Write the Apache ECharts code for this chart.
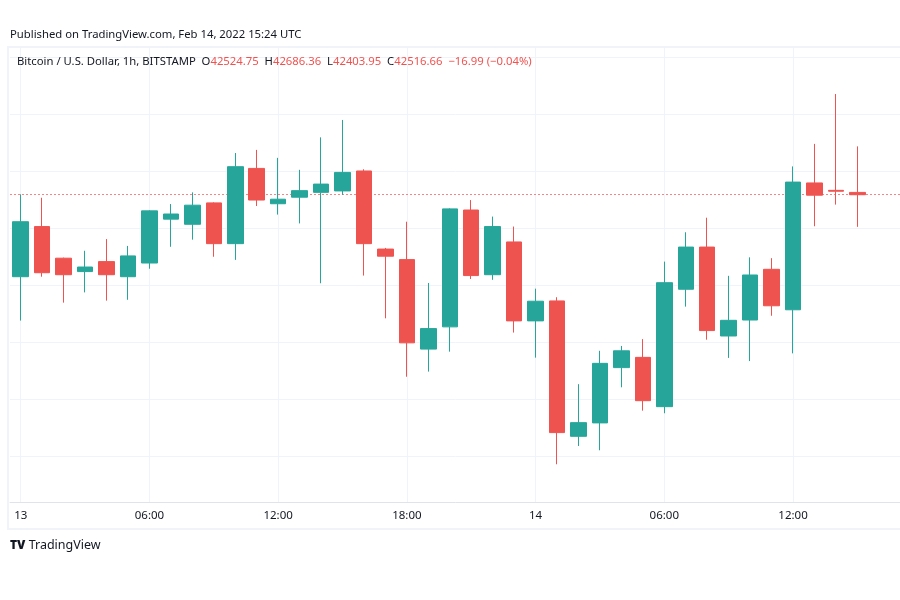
<!DOCTYPE html>
<html>
<head>
<meta charset="utf-8">
<script src="https://cdn.jsdelivr.net/npm/echarts@6/dist/echarts.min.js"></script>
<style>html,body{margin:0;padding:0;background:#fff}#c{width:900px;height:600px}</style>
</head>
<body>
<div id="c"></div>
<script>
// ---- data ----
const categories = [
 '13 00:00','13 01:00','13 02:00','13 03:00','13 04:00','13 05:00','13 06:00','13 07:00','13 08:00','13 09:00',
 '13 10:00','13 11:00','13 12:00','13 13:00','13 14:00','13 15:00','13 16:00','13 17:00','13 18:00','13 19:00',
 '13 20:00','13 21:00','13 22:00','13 23:00','14 00:00','14 01:00','14 02:00','14 03:00','14 04:00','14 05:00',
 '14 06:00','14 07:00','14 08:00','14 09:00','14 10:00','14 11:00','14 12:00','14 13:00','14 14:00','14 15:00',
 '14 16:00','14 17:00'
];
const opens  = [42229,42405,42294,42247,42282,42229,42277,42431,42413,42488,42345,42609,42485,42508,42525,42530,42600,42326,42289,41975,42053,42463,42236,42351,42074,42144,41669,41716,41910,41946,41773,42185,42333,42021,42077,42255,42113,42558,42532,42524.75];
const closes = [42422,42243,42236,42263,42236,42302,42460,42449,42480,42345,42615,42498,42501,42531,42554,42595,42345,42301,41997,42047,42467,42233,42405,42074,42143,41682,41717,41925,41969,41794,42208,42333,42040,42076,42235,42127,42561,42515,42529,42516.66];
const lows   = [42075,42229,42138,42174,42145,42148,42257,42334,42359,42299,42288,42477,42447,42416,42206,42516,42233,42083,41878,41896,41966,42221,42218,42033,41945,41571,41635,41620,41841,41759,41750,42124,42008,41944,41933,42092,41960,42406,42482,42403.95];
const highs  = [42518,42506,42296,42320,42361,42337,42462,42484,42525,42490,42663,42674,42646,42604,42718,42779,42606,42330,42422,42207,42469,42498,42440,42405,42187,42157,41852,41969,41986,42010,42282,42385,42436,42232,42297,42294,42616,42695,42870,42686.36];
const tickIndex  = [0,6,12,18,24,30,36];
const tickLabels = ['13','06:00','12:00','18:00','14','06:00','12:00'];
const priceLevels = [41600,41800,42000,42200,42400,42600,42800,43000];
const lastClose = 42516.66;
const yMin = 41438.5, yMax = 43035;

const GREEN = '#26a69a', RED = '#ef5350', TXT = '#131722', GRID = '#f0f3fa';
const FONT = 'Noto Sans';

const candleData = opens.map((o, i) => [o, closes[i], lows[i], highs[i]]);

const gridLines = [];
priceLevels.forEach(v => gridLines.push({yAxis: v}));
tickIndex.forEach(i => gridLines.push({xAxis: categories[i]}));

const chart = echarts.init(document.getElementById('c'), null, {renderer: 'canvas'});
chart.setOption({
  animation: false,
  backgroundColor: '#ffffff',
  grid: {left: 10, width: 901, top: 47, height: 455, containLabel: false, outerBoundsMode: 'none'},
  xAxis: {
    type: 'category', data: categories, boundaryGap: true,
    axisLine: {show: true, lineStyle: {color: '#e0e3eb', width: 1}},
    axisTick: {show: false},
    splitLine: {show: false},
    axisLabel: {
      interval: 0, color: TXT, fontFamily: FONT, fontSize: 11.5, margin: 8,
      formatter: (v, i) => { const k = tickIndex.indexOf(i); return k >= 0 ? tickLabels[k] : ''; }
    }
  },
  yAxis: {
    type: 'value', min: yMin, max: yMax, scale: true,
    axisLine: {show: false}, axisTick: {show: false}, axisLabel: {show: false}, splitLine: {show: false}
  },
  series: [
    {
      type: 'line', data: [], silent: true,
      markLine: {
        silent: true, symbol: 'none', z: 0, animation: false,
        label: {show: false},
        lineStyle: {color: GRID, type: 'solid', width: 1},
        emphasis: {disabled: true},
        data: gridLines
      }
    },
    {
      type: 'line', data: [], silent: true,
      markLine: {
        silent: true, symbol: 'none', z: 1, animation: false,
        label: {show: false},
        lineStyle: {color: 'rgba(239,83,80,0.7)', type: [2, 2], width: 1},
        emphasis: {disabled: true},
        data: [{yAxis: lastClose}]
      }
    },
    {
      type: 'candlestick', z: 3, barWidth: 16,
      data: candleData,
      itemStyle: {color: GREEN, color0: RED, borderColor: GREEN, borderColor0: RED, borderWidth: 1}
    }
  ],
  graphic: [
    {type: 'rect', z: -1, silent: true, shape: {x: 8, y: 47, width: 900, height: 482},
     style: {fill: 'none', stroke: GRID, lineWidth: 2}},
    {type: 'text', left: 10, top: 29, z: 100, silent: true,
     style: {text: 'Published on TradingView.com, Feb 14, 2022 15:24 UTC', fill: TXT, font: '11.3px "Noto Sans"'}},
    {type: 'text', left: 17, top: 56, z: 100, silent: true,
     style: {
       text: '{k|Bitcoin / U.S. Dollar, 1h, BITSTAMP  O}{v|42524.75}{k|  H}{v|42686.36}{k|  L}{v|42403.95}{k|  C}{v|42516.66}{v|  \u221216.99 (\u22120.04%)}',
       rich: {k: {fill: TXT, fontFamily: FONT, fontSize: 11.3}, v: {fill: RED, fontFamily: FONT, fontSize: 11.3}}
     }},
    {type: 'text', left: 10, top: 539, z: 100, silent: true,
     style: {
       text: '{l|TV}{t| TradingView}',
       rich: {l: {fill: TXT, fontFamily: FONT, fontSize: 12, fontWeight: 900}, t: {fill: TXT, fontFamily: FONT, fontSize: 12.5}}
     }}
  ]
});
</script>
</body>
</html>
